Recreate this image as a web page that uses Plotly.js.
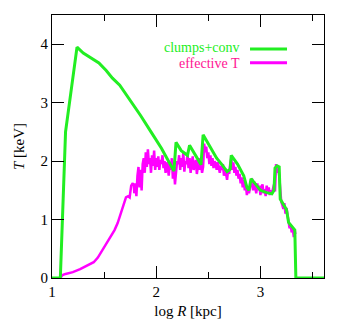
<!DOCTYPE html>
<html>
<head>
<meta charset="utf-8">
<script src="https://cdn.plot.ly/plotly-3.0.1.min.js"></script>
<style>
  html, body { margin: 0; padding: 0; background: #fff; }
  #plot { width: 349px; height: 324px; }
</style>
</head>
<body>
<div id="plot"></div>
<script>
// clumps+conv profile (green)
var clumpsX = [1.00, 1.08, 1.13, 1.24, 1.30, 1.38, 1.45, 1.52, 1.58, 1.65, 1.75, 1.85, 1.95, 2.05, 2.17,
  2.19, 2.24, 2.30, 2.32, 2.38, 2.43, 2.45, 2.52, 2.58, 2.64, 2.68, 2.71, 2.72, 2.78, 2.84, 2.87, 2.89,
  2.91, 2.96, 3.00, 3.06, 3.11, 3.13, 3.14, 3.16, 3.18, 3.19, 3.22, 3.25, 3.27, 3.30, 3.33, 3.34, 3.61];
var clumpsY = [0, 0, 2.5, 3.95, 3.85, 3.76, 3.68, 3.55, 3.42, 3.30, 3.05, 2.78, 2.50, 2.22, 1.83,
  2.32, 2.18, 2.10, 2.27, 2.08, 1.94, 2.45, 2.22, 2.05, 1.92, 1.82, 1.86, 2.10, 1.95, 1.75, 1.55, 1.50,
  1.70, 1.58, 1.50, 1.46, 1.44, 1.50, 1.88, 1.92, 1.90, 1.35, 1.25, 1.17, 0.95, 0.88, 0.82, 0, 0];

// effective T profile (magenta)
var effX = [1.08, 1.10, 1.13, 1.20, 1.27, 1.33, 1.40, 1.44, 1.48, 1.52, 1.56, 1.60, 1.63, 1.66, 1.69,
  1.71, 1.73, 1.745, 1.76, 1.775, 1.785,
  1.79, 1.80, 1.81, 1.82, 1.83, 1.84, 1.85, 1.86, 1.87, 1.88, 1.89, 1.90, 1.91, 1.92, 1.93, 1.94, 1.95,
  1.96, 1.97, 1.98, 1.99, 2.00,
  2.01, 2.02, 2.03, 2.04, 2.05, 2.06, 2.07, 2.08, 2.09, 2.10, 2.11, 2.12, 2.13, 2.14, 2.15, 2.16, 2.17,
  2.18, 2.19, 2.20,
  2.21, 2.22, 2.23, 2.24, 2.25, 2.26, 2.27, 2.28, 2.29, 2.30, 2.31, 2.32, 2.33, 2.34, 2.35, 2.36, 2.37,
  2.38, 2.39, 2.40, 2.41, 2.42, 2.43, 2.44, 2.45,
  2.46, 2.47, 2.48, 2.49, 2.50, 2.51, 2.52, 2.53, 2.54, 2.55, 2.56, 2.57, 2.58, 2.59, 2.60, 2.61, 2.62,
  2.63, 2.64, 2.65, 2.66, 2.67, 2.68, 2.69, 2.70,
  2.71, 2.72, 2.73, 2.74, 2.75, 2.76, 2.77, 2.78, 2.79, 2.80, 2.81, 2.82, 2.83, 2.84, 2.85, 2.86, 2.87,
  2.88, 2.89, 2.90,
  2.91, 2.92, 2.93, 2.94, 2.95, 2.96, 2.97, 2.98, 2.99, 3.00, 3.01, 3.02, 3.03, 3.04, 3.05, 3.06, 3.07,
  3.08, 3.09, 3.10, 3.11, 3.12, 3.13, 3.14,
  3.15, 3.16, 3.17, 3.18, 3.19, 3.20,
  3.21, 3.22, 3.23, 3.24, 3.25, 3.26, 3.27, 3.28, 3.29, 3.30, 3.31, 3.32, 3.33, 3.335];
var effY = [0.00, 0.05, 0.07, 0.10, 0.15, 0.21, 0.27, 0.35, 0.47, 0.60, 0.72, 0.82, 0.94, 1.10, 1.30,
  1.38, 1.40, 1.38, 1.58, 1.62, 1.58,
  1.45, 1.62, 1.40, 1.75, 1.90, 1.55, 1.85, 1.50, 1.95, 2.05, 1.80, 2.15, 1.90, 2.20, 1.95, 2.05, 1.80,
  2.10, 1.92, 2.18, 1.85, 2.05,
  1.90, 2.08, 1.85, 2.02, 1.95, 2.10, 1.88, 2.00, 1.80, 1.98, 1.92, 1.75, 1.95, 1.85, 2.05, 1.70, 1.90,
  1.60, 1.85, 2.00,
  1.95, 2.10, 1.85, 2.05, 1.90, 2.15, 1.82, 2.00, 1.95, 2.12, 1.88, 2.05, 1.80, 1.98, 2.08, 1.85, 1.95,
  2.02, 1.78, 1.92, 2.05, 1.85, 1.95, 1.80, 1.90,
  2.30, 2.15, 2.25, 2.05, 2.15, 1.95, 2.10, 1.92, 2.05, 1.88, 2.00, 1.95, 1.85, 1.98, 1.90, 1.80, 1.92,
  1.85, 1.95, 1.75, 1.88, 1.80, 1.68, 1.85, 1.78,
  1.95, 2.05, 1.85, 1.98, 1.80, 1.90, 1.75, 1.85, 1.70, 1.78, 1.62, 1.72, 1.55, 1.68, 1.50, 1.60, 1.42,
  1.55, 1.45, 1.58,
  1.62, 1.70, 1.50, 1.65, 1.55, 1.45, 1.62, 1.50, 1.58, 1.42, 1.55, 1.60, 1.45, 1.52, 1.40, 1.58, 1.48,
  1.55, 1.42, 1.50, 1.45, 1.52, 1.60, 1.48,
  1.95, 1.80, 1.90, 1.75, 1.40, 1.30,
  1.25, 1.18, 1.28, 1.10, 1.20, 1.05, 0.95, 0.85, 0.92, 0.78, 0.85, 0.70, 0.80, 0.75];

var legendNames = ['clumps+conv', 'effective T'];
var green = '#22ee22';
var magenta = '#ff00ff';

var traces = [
  {
    x: effX, y: effY, type: 'scatter', mode: 'lines', name: legendNames[1],
    line: { color: magenta, width: 2.5 }, showlegend: false
  },
  {
    x: clumpsX, y: clumpsY, type: 'scatter', mode: 'lines', name: legendNames[0],
    line: { color: green, width: 3 }, showlegend: false
  }
];

var serif = 'Liberation Serif';
var font = { family: serif, size: 15, color: '#000' };

var axisCommon = {
  showgrid: false, zeroline: false, showline: true, linecolor: '#000', linewidth: 1,
  mirror: 'allticks', ticks: 'inside', ticklen: 12, tickcolor: '#000', tickwidth: 1,
  tickfont: font
};

var layout = {
  width: 349, height: 324,
  margin: { l: 52, r: 25, t: 15, b: 46 },
  paper_bgcolor: '#fff', plot_bgcolor: '#fff',
  font: font,
  xaxis: Object.assign({}, axisCommon, {
    range: [1, 3.61], tickvals: [1, 2, 3], ticktext: ['1', '2', '3'],
    minor: { dtick: 0.5, tick0: 1, ticks: 'inside', ticklen: 6, tickcolor: '#000' },
    title: { text: 'log <i>R</i> [kpc]', font: font, standoff: 6 }
  }),
  yaxis: Object.assign({}, axisCommon, {
    range: [0, 4.5], tickvals: [0, 1, 2, 3, 4],
    title: { text: '<i>T</i> [keV]', font: font, standoff: 12 }
  }),
  annotations: [
    { xref: 'paper', yref: 'paper', x: 0.698, y: 0.876, xanchor: 'right', yanchor: 'middle',
      text: legendNames[0], showarrow: false, font: { family: serif, size: 14, color: green } },
    { xref: 'paper', yref: 'paper', x: 0.698, y: 0.814, xanchor: 'right', yanchor: 'middle',
      text: legendNames[1], showarrow: false, font: { family: serif, size: 14, color: '#ff1493' } }
  ],
  shapes: [
    { type: 'line', xref: 'paper', yref: 'paper', x0: 0.728, x1: 0.864, y0: 0.871, y1: 0.871,
      line: { color: green, width: 3 } },
    { type: 'line', xref: 'paper', yref: 'paper', x0: 0.728, x1: 0.864, y0: 0.818, y1: 0.818,
      line: { color: magenta, width: 3 } }
  ]
};

Plotly.newPlot('plot', traces, layout, { displayModeBar: false, staticPlot: true });
</script>
</body>
</html>
